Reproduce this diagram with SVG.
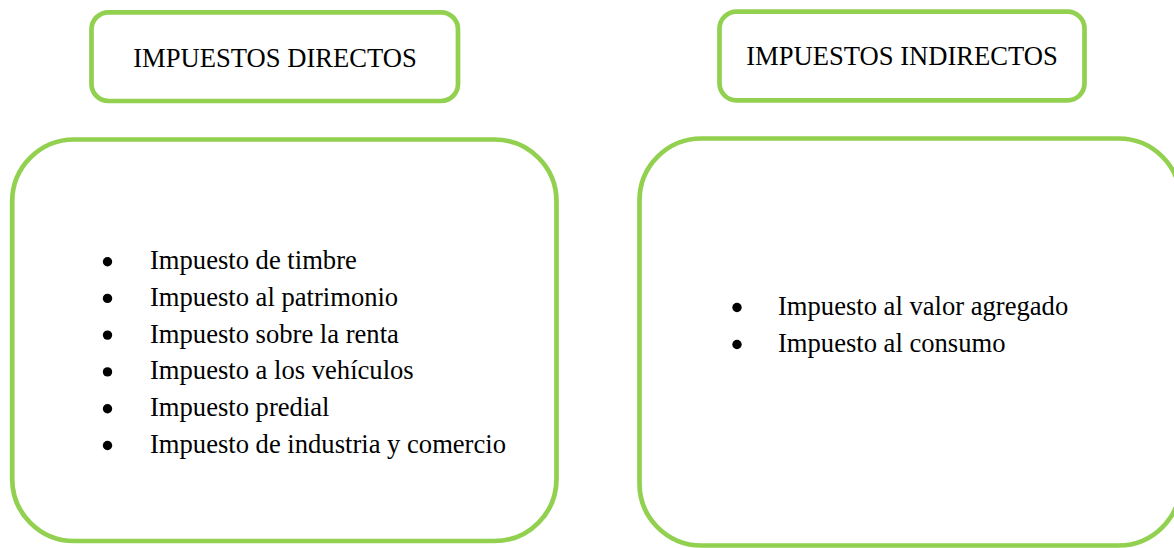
<svg xmlns="http://www.w3.org/2000/svg" width="1174" height="548" viewBox="0 0 1174 548">
<style>
.box{fill:#ffffff;stroke:#92D050;stroke-width:4.7}
.t{font-family:"Liberation Serif","Times New Roman",serif;font-size:26.6px;fill:#000000}
.h{text-anchor:middle}
.b{fill:#000000}
</style>
<rect width="1174" height="548" fill="#ffffff"/>
<g id="connectors"></g>
<g id="directos-title">
<rect class="box" x="91.5" y="12.3" width="366.5" height="88.7" rx="17"/>
<text class="t h" x="275" y="67">IMPUESTOS DIRECTOS</text>
</g>
<g id="indirectos-title">
<rect class="box" x="719.5" y="11.6" width="365" height="88.7" rx="17"/>
<text class="t h" x="902" y="65">IMPUESTOS INDIRECTOS</text>
</g>
<g id="directos-list">
<rect class="box" x="12.2" y="139.5" width="544.3" height="401.5" rx="62"/>
<circle class="b" cx="107.5" cy="261.7" r="4.7"/>
<circle class="b" cx="107.5" cy="298.4" r="4.7"/>
<circle class="b" cx="107.5" cy="335.1" r="4.7"/>
<circle class="b" cx="107.5" cy="371.9" r="4.7"/>
<circle class="b" cx="107.5" cy="408.7" r="4.7"/>
<circle class="b" cx="107.5" cy="445.5" r="4.7"/>
<text class="t" x="150" y="269">Impuesto de timbre</text>
<text class="t" x="150" y="305.8">Impuesto al patrimonio</text>
<text class="t" x="150" y="342.6">Impuesto sobre la renta</text>
<text class="t" x="150" y="379.4">Impuesto a los vehículos</text>
<text class="t" x="150" y="416.2">Impuesto predial</text>
<text class="t" x="150" y="453">Impuesto de industria y comercio</text>
</g>
<g id="indirectos-list">
<rect class="box" x="639.5" y="138.5" width="541" height="407" rx="62"/>
<circle class="b" cx="737" cy="307.5" r="4.7"/>
<circle class="b" cx="737" cy="344.5" r="4.7"/>
<text class="t" x="778" y="315">Impuesto al valor agregado</text>
<text class="t" x="778" y="352">Impuesto al consumo</text>
</g>
</svg>
